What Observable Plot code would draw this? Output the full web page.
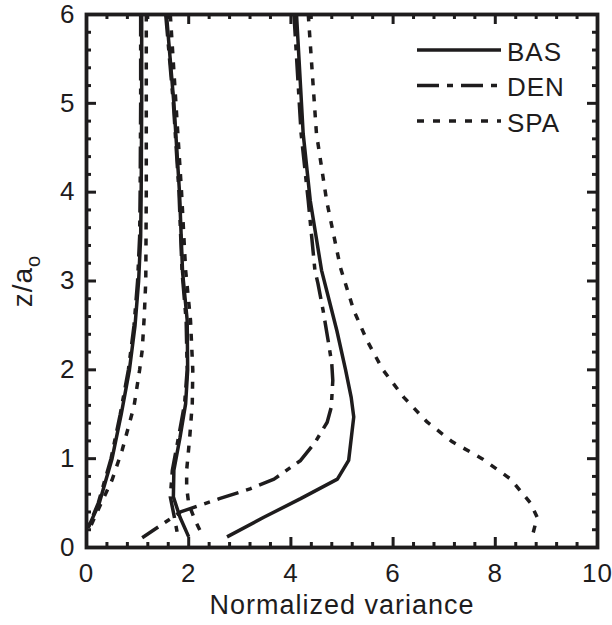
<!DOCTYPE html>
<html><head><meta charset="utf-8">
<script src="https://cdn.jsdelivr.net/npm/d3@7"></script>
<script src="https://cdn.jsdelivr.net/npm/@observablehq/plot@0.6"></script>
<style>
body{margin:0;background:#fff;}
</style>
</head><body><div id="chart"></div>
<script>
// ---- data: [normalized variance, z/a_o] ----
const seriesNames = ["BAS", "DEN", "SPA"];
const BAS_low  = [[1.08,6],[1.08,5],[1.07,4],[1.06,3.5],[1.02,3],[0.95,2.5],[0.84,2],[0.68,1.5],[0.50,1],[0.25,0.5],[0.04,0.23]];
const DEN_low  = [[1.06,6],[1.06,5],[1.05,4],[1.04,3.5],[1.00,3],[0.93,2.5],[0.82,2],[0.66,1.5],[0.48,1],[0.23,0.5],[0.03,0.22]];
const SPA_low  = [[1.17,6],[1.17,5],[1.17,4],[1.16,3],[1.13,2.6],[1.09,2.22],[1.04,2],[0.93,1.59],[0.70,1.1],[0.50,0.76],[0.24,0.44],[0.05,0.2]];
const BAS_mid  = [[1.565,6],[1.71,5],[1.82,4],[1.88,3.1],[1.97,2.56],[1.98,2],[1.94,1.62],[1.83,1.24],[1.71,0.87],[1.70,0.57],[1.83,0.34],[2.0,0.12]];
const DEN_mid  = [[1.55,6],[1.70,5],[1.81,4],[1.87,3.1],[1.95,2.56],[1.97,2],[1.92,1.62],[1.80,1.24],[1.68,0.87],[1.64,0.57],[1.72,0.34],[1.79,0.12]];
const SPA_mid  = [[1.64,6],[1.75,5],[1.86,4],[1.94,3.12],[2.035,2.56],[2.08,2],[2.07,1.62],[2.02,1.24],[1.96,0.87],[1.96,0.68],[2.0,0.49],[2.13,0.3],[2.28,0.12]];
const BAS_high = [[4.11,6],[4.24,4.66],[4.38,3.9],[4.6,3.12],[4.75,2.78],[4.9,2.44],[5.07,2.0],[5.18,1.69],[5.23,1.47],[5.13,0.98],[4.91,0.77],[4.19,0.55],[3.47,0.34],[2.75,0.12]];
const DEN_high = [[4.06,6],[4.2,4.66],[4.34,3.9],[4.47,3.12],[4.53,2.97],[4.63,2.67],[4.74,2.29],[4.80,2.07],[4.82,1.88],[4.79,1.58],[4.71,1.41],[4.48,1.19],[4.19,0.98],[3.67,0.77],[3.2,0.66],[2.6,0.55],[1.84,0.40],[1.09,0.11]];
const SPA_high = [[4.34,6],[4.50,4.66],[4.70,3.9],[4.97,3.15],[5.23,2.67],[5.49,2.33],[5.80,2.0],[6.21,1.69],[6.67,1.41],[7.16,1.19],[7.74,1.0],[8.30,0.77],[8.69,0.50],[8.82,0.34],[8.72,0.12]];
const xTicks = [0, 2, 4, 6, 8, 10];
const yTicks = [0, 1, 2, 3, 4, 5, 6];
const xMinor = d3.range(0, 10.001, 0.4).filter(v => Math.abs(v/2 - Math.round(v/2)) > 1e-6);
const yMinor = d3.range(0, 6.001, 0.2).filter(v => Math.abs(v - Math.round(v)) > 1e-6);
const xTitle = "Normalized variance";
const yTitle = "z/a";
const yTitleSub = "o";

// ---- styles ----
const ink = "#1e1c1d";
const dashes = {BAS: null, DEN: "22,8,6,8", SPA: "7,9"};
const curves = [
  {name: "BAS", pts: BAS_low}, {name: "DEN", pts: DEN_low}, {name: "SPA", pts: SPA_low},
  {name: "BAS", pts: BAS_mid}, {name: "DEN", pts: DEN_mid}, {name: "SPA", pts: SPA_mid},
  {name: "BAS", pts: BAS_high}, {name: "DEN", pts: DEN_high}, {name: "SPA", pts: SPA_high}
];

const W = 612, H = 625, mL = 86, mR = 15, mT = 14, mB = 78;
const iw = W - mL - mR, ih = H - mT - mB;
const font = "'Liberation Sans', Arial, Helvetica, sans-serif";
const tk = {stroke: ink, strokeWidth: 3};
const lw = 3.5;

const chart = Plot.plot({
  width: W, height: H,
  marginLeft: mL, marginRight: mR, marginTop: mT, marginBottom: mB,
  style: {fontFamily: font, fontSize: "26px", color: ink, background: "#fff", letterSpacing: "1px"},
  x: {domain: [0, 10], ticks: xTicks},
  y: {domain: [0, 6], ticks: yTicks},
  marks: [
    ...curves.map(c => Plot.line(c.pts, {
      x: d => d[0], y: d => d[1], stroke: ink, strokeWidth: lw,
      strokeDasharray: dashes[c.name], strokeLinecap: "butt", strokeLinejoin: "miter"
    })),
    // inward, mirrored ticks on all four sides
    Plot.tickX(xTicks, {x: d => d, insetTop: ih - 10, ...tk}),
    Plot.tickX(xTicks, {x: d => d, insetBottom: ih - 10, ...tk}),
    Plot.tickX(xMinor, {x: d => d, insetTop: ih - 5, ...tk}),
    Plot.tickX(xMinor, {x: d => d, insetBottom: ih - 5, ...tk}),
    Plot.tickY(yTicks, {y: d => d, insetRight: iw - 10, ...tk}),
    Plot.tickY(yTicks, {y: d => d, insetLeft: iw - 10, ...tk}),
    Plot.tickY(yMinor, {y: d => d, insetRight: iw - 5, ...tk}),
    Plot.tickY(yMinor, {y: d => d, insetLeft: iw - 5, ...tk}),
    Plot.frame({stroke: ink, strokeWidth: 3.8}),
    Plot.axisX(xTicks, {tickSize: 0, tickPadding: 16, fontSize: 26, fill: ink, tickFormat: d3.format("d"), label: null}),
    Plot.axisY(yTicks, {tickSize: 0, tickPadding: 11, fontSize: 26, fill: ink, tickFormat: d3.format("d"), label: null}),
    Plot.text([xTitle], {text: d => d, frameAnchor: "bottom", dy: 66, textAnchor: "middle", fontSize: 27, fill: ink}),
    Plot.text([yTitle], {text: d => d, frameAnchor: "left", rotate: -90, dx: -63, textAnchor: "middle", fontSize: 28, fill: ink})
  ]
});

document.getElementById("chart").appendChild(chart);

// subscript on the y title
d3.select(chart).selectAll("text").each(function() {
  if (this.textContent === yTitle) {
    d3.select(this).append("tspan").attr("dy", "0.4em").attr("font-size", "20px").text(yTitleSub);
  }
});

// legend inside the plot (top right)
const lg = d3.select(chart).append("g")
  .attr("font-family", font).attr("font-size", 26).attr("fill", ink).attr("text-anchor", "start");
seriesNames.forEach((name, i) => {
  const y = 50 + i * 35.5;
  lg.append("line").attr("x1", 417).attr("x2", 501).attr("y1", y).attr("y2", y)
    .attr("stroke", ink).attr("stroke-width", lw)
    .attr("stroke-dasharray", dashes[name]);
  lg.append("text").attr("x", 507).attr("y", y + 10.5).attr("text-anchor", "start").text(name);
});
</script>
</body></html>
